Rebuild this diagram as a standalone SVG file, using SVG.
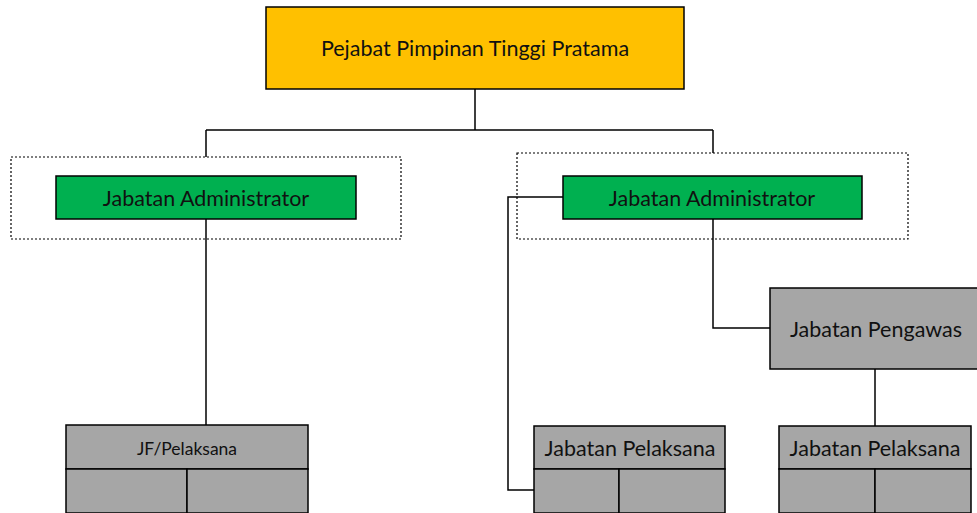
<svg xmlns="http://www.w3.org/2000/svg" width="977" height="513" viewBox="0 0 977 513">
  <style>
    .box { stroke: #000; stroke-width: 1.5; }
    .lead { fill: #FFC000; }
    .admin { fill: #00B050; }
    .unit { fill: #A6A6A6; }
    .group { fill: none; stroke: #000; stroke-width: 1.2; stroke-dasharray: 2 2; }
    .wire { fill: none; stroke: #000; stroke-width: 1.5; }
    text { font-family: "Lato", "Open Sans", "Liberation Sans", sans-serif; fill: #111; text-anchor: middle; dominant-baseline: central; }
    .t20 { font-size: 21.5px; }
    .t15 { font-size: 17.5px; }
  </style>
  <rect width="977" height="513" fill="#fff"/>

  <!-- connectors -->
  <g id="connectors">
    <path class="wire" d="M475 89 V130 M206 130 H713 M206 130 V157 M713 130 V153"/>
    <path class="wire" d="M206 219 V426"/>
    <path class="wire" d="M713 219 V328 H770"/>
    <path class="wire" d="M875 369 V426"/>
    <path class="wire" d="M563 197 H508 V490 H534"/>
  </g>

  <!-- dotted grouping frames -->
  <g id="frames">
    <rect class="group" x="11" y="157" width="390" height="82"/>
    <rect class="group" x="517" y="153" width="391" height="86"/>
  </g>

  <g id="pimpinan">
    <rect class="box lead" x="266" y="7" width="418" height="82"/>
    <text class="t20" x="475" y="48">Pejabat Pimpinan Tinggi Pratama</text>
  </g>

  <g id="admin-kiri">
    <rect class="box admin" x="56" y="176" width="300" height="43"/>
    <text class="t20" x="206" y="198">Jabatan Administrator</text>
  </g>

  <g id="admin-kanan">
    <rect class="box admin" x="563" y="176" width="299" height="43"/>
    <text class="t20" x="712" y="198">Jabatan Administrator</text>
  </g>

  <g id="pengawas">
    <rect class="box unit" x="770" y="288" width="212" height="81"/>
    <text class="t20" x="876" y="329">Jabatan Pengawas</text>
  </g>

  <g id="jf-pelaksana">
    <rect class="box unit" x="66" y="425" width="242" height="44"/>
    <rect class="box unit" x="66" y="469" width="121" height="44"/>
    <rect class="box unit" x="187" y="469" width="121" height="44"/>
    <text class="t15" x="187" y="448">JF/Pelaksana</text>
  </g>

  <g id="pelaksana-tengah">
    <rect class="box unit" x="534" y="426" width="191" height="43"/>
    <rect class="box unit" x="534" y="469" width="85" height="44"/>
    <rect class="box unit" x="619" y="469" width="106" height="44"/>
    <text class="t20" x="630" y="448">Jabatan Pelaksana</text>
  </g>

  <g id="pelaksana-kanan">
    <rect class="box unit" x="779" y="426" width="192" height="43"/>
    <rect class="box unit" x="779" y="469" width="96" height="44"/>
    <rect class="box unit" x="875" y="469" width="96" height="44"/>
    <text class="t20" x="875" y="448">Jabatan Pelaksana</text>
  </g>
</svg>
